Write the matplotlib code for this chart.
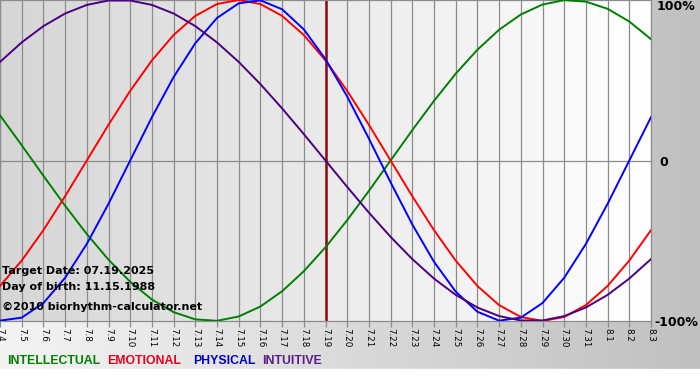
import numpy as np
import matplotlib
matplotlib.use("Agg")
import matplotlib.pyplot as plt

# day labels along the bottom
days = ["7.4", "7.5", "7.6", "7.7", "7.8", "7.9", "7.10", "7.11", "7.12", "7.13",
        "7.14", "7.15", "7.16", "7.17", "7.18", "7.19", "7.20", "7.21", "7.22", "7.23",
        "7.24", "7.25", "7.26", "7.27", "7.28", "7.29", "7.30", "7.31", "8.1", "8.2", "8.3"]
target_day = "7.19"

# daily values (-1 .. 1)
intellectual = [0.2817, 0.0951, -0.0951, -0.2817, -0.4582, -0.6182, -0.7557, -0.8660,
                -0.9450, -0.9898, -0.9989, -0.9718, -0.9096, -0.8146, -0.6901, -0.5406,
                -0.3717, -0.1893, 0.0, 0.1893, 0.3717, 0.5406, 0.6901, 0.8146, 0.9096,
                0.9718, 0.9989, 0.9898, 0.9450, 0.8660, 0.7557]
emotional = [-0.7818, -0.6235, -0.4339, -0.2225, 0.0, 0.2225, 0.4339, 0.6235, 0.7818,
             0.9010, 0.9749, 1.0, 0.9749, 0.9010, 0.7818, 0.6235, 0.4339, 0.2225, 0.0,
             -0.2225, -0.4339, -0.6235, -0.7818, -0.9010, -0.9749, -1.0, -0.9749,
             -0.9010, -0.7818, -0.6235, -0.4339]
physical = [-0.9977, -0.9791, -0.8880, -0.7308, -0.5196, -0.2698, 0.0, 0.2698, 0.5196,
            0.7308, 0.8880, 0.9791, 0.9977, 0.9423, 0.8170, 0.6311, 0.3984, 0.1362,
            -0.1362, -0.3984, -0.6311, -0.8170, -0.9423, -0.9977, -0.9791, -0.8880,
            -0.7308, -0.5196, -0.2698, 0.0, 0.2698]
intuitive = [0.6142, 0.7357, 0.8372, 0.9158, 0.9694, 0.9966, 0.9966, 0.9694, 0.9158,
             0.8372, 0.7357, 0.6142, 0.4759, 0.3247, 0.1646, 0.0, -0.1646, -0.3247,
             -0.4759, -0.6142, -0.7357, -0.8372, -0.9158, -0.9694, -0.9966, -0.9966,
             -0.9694, -0.9158, -0.8372, -0.7357, -0.6142]

W, H = 700, 380
fig = plt.figure(figsize=(W / 100, H / 100), dpi=100)

# figure background: horizontal grey gradient, white strip at bottom
bg = fig.add_axes([0, 0, 1, 1])
grad = np.linspace(0, 1, 256).reshape(1, -1)
bg.imshow(grad, extent=[0, W, 0, H], aspect="auto",
          cmap=matplotlib.colors.LinearSegmentedColormap.from_list("bg", ["#f4f4f4", "#c0c0c0"]))
bg.axhspan(0, 11, color="white")
bg.set_xlim(0, W)
bg.set_ylim(0, H)
bg.axis("off")

# plot area
x0, x1, ytop, ybot = 0, 651, 0, 321
ax = fig.add_axes([x0 / W, 1 - ybot / H, (x1 - x0) / W, (ybot - ytop) / H])
x = np.arange(len(days))
ax.imshow(grad, extent=[0, len(days) - 1, -1, 1], aspect="auto", zorder=0,
          cmap=matplotlib.colors.LinearSegmentedColormap.from_list("pa", ["#d6d6d6", "#ffffff"]))
ax.set_xlim(0, len(days) - 1)
ax.set_ylim(-1, 1)

for xi in x:
    ax.axvline(xi, color="#8c8c8c", lw=0.9, zorder=1)
ax.axhline(0, color="#8c8c8c", lw=0.9, zorder=1)
ax.axvline(days.index(target_day), color="#8b0a0a", lw=1.8, zorder=2)

ax.plot(x, intellectual, color="#008000", lw=1.4, zorder=3)
ax.plot(x, emotional, color="#ff0000", lw=1.4, zorder=3)
ax.plot(x, physical, color="#0000ff", lw=1.4, zorder=3)
ax.plot(x, intuitive, color="#4b0082", lw=1.4, zorder=3)

for s in ax.spines.values():
    s.set_color("#8c8c8c")
    s.set_linewidth(0.9)
ax.set_yticks([])
ax.set_xticks(x)
ax.set_xticklabels(days, rotation=270, fontsize=6.3, va="top", ha="center")
ax.tick_params(axis="x", length=4, width=0.9, color="#8c8c8c", pad=1)

def px(xp, yp):
    return xp / W, 1 - yp / H

fig.text(*px(657, 7), "100%", fontsize=9, fontweight="bold", va="center", ha="left")
fig.text(*px(659, 162), "0", fontsize=9, fontweight="bold", va="center", ha="left")
fig.text(*px(654, 322), "-100%", fontsize=9, fontweight="bold", va="center", ha="left")

fig.text(*px(2, 271), "Target Date: 07.19.2025", fontsize=8, fontweight="bold", va="center")
fig.text(*px(2, 287), "Day of birth: 11.15.1988", fontsize=8, fontweight="bold", va="center")
fig.text(*px(2, 307), "\u00a92010 biorhythm-calculator.net", fontsize=8, fontweight="bold", va="center")

legend = [("INTELLECTUAL", "#008000", 7), ("EMOTIONAL", "#e8001c", 107),
          ("PHYSICAL", "#0000cc", 193), ("INTUITIVE", "#5a1a8a", 262)]
for name, col, xp in legend:
    fig.text(*px(xp, 361), name, fontsize=8.8, fontweight="bold", color=col, va="center",
             family="Liberation Sans")

fig.savefig("out.png", dpi=100)
